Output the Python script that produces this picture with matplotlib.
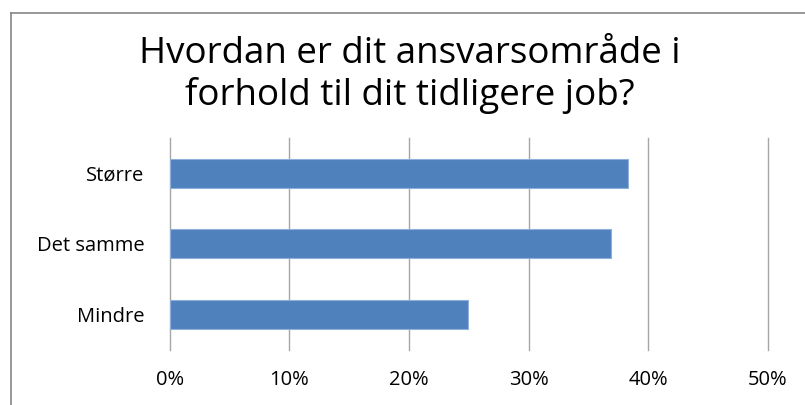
import matplotlib
matplotlib.use("Agg")
import matplotlib.pyplot as plt
from matplotlib.lines import Line2D
from matplotlib.ticker import FuncFormatter

categories = ["Mindre", "Det samme", "Større"]
values = [0.2495, 0.3685, 0.383]
xticks = [0, 0.1, 0.2, 0.3, 0.4, 0.5]
title = "Hvordan er dit ansvarsområde i\nforhold til dit tidligere job?"

plt.rcParams["font.family"] = ["Open Sans", "DejaVu Sans"]

fig = plt.figure(figsize=(8.05, 4.05), dpi=100)
ax = fig.add_axes([169.6 / 805, 55.5 / 405, 598.4 / 805, 211.5 / 405])

ax.barh(range(len(categories)), values, height=0.41, color="#4f81bd",
        edgecolor="#8eb0da", linewidth=0.8, zorder=3)

ax.set_xlim(0, 0.5)
ax.set_ylim(-0.5, len(categories) - 0.5)
ax.set_xticks(xticks)
ax.xaxis.set_major_formatter(FuncFormatter(lambda v, p: f"{v * 100:.0f}%"))
ax.set_yticks(range(len(categories)))
ax.set_yticklabels(categories)
ax.grid(axis="x", color="#a6a6a6", linewidth=1, zorder=0)
for gl in ax.get_xgridlines():
    gl.set_clip_on(False)
for s in ax.spines.values():
    s.set_visible(False)
ax.tick_params(axis="both", length=0, labelsize=14.5, colors="black")
ax.tick_params(axis="x", pad=15)
ax.tick_params(axis="y", pad=18)

fig.text(410 / 805, 1 - 75 / 405, title, ha="center", va="center",
         fontsize=26.5, linespacing=1.2)

# chart frame, only the top and left edges are inside the picture
fx, fy = 10.5 / 805, 1 - 12.5 / 405
fig.add_artist(Line2D([fx, fx], [0, fy], transform=fig.transFigure,
                      color="#868686", linewidth=1.2))
fig.add_artist(Line2D([fx, 1], [fy, fy], transform=fig.transFigure,
                      color="#868686", linewidth=1.2))

fig.savefig("out.png", dpi=100)
